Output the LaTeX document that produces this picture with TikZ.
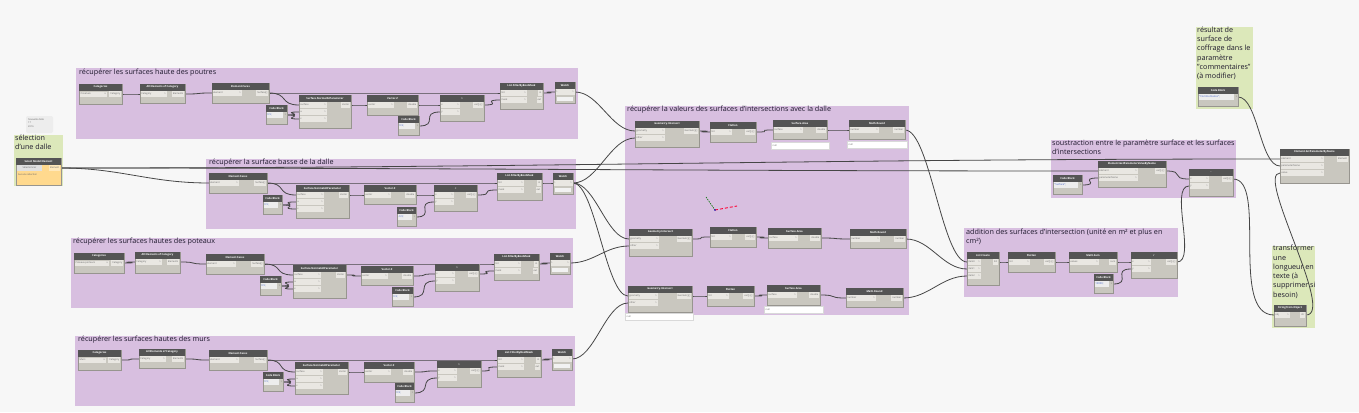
\documentclass[tikz,border=0pt]{standalone}
\usepackage{fontspec}
\setmainfont{Open Sans}
\usetikzlibrary{calc}
\pgfdeclarelayer{bgl}
\pgfdeclarelayer{wl}
\pgfsetlayers{bgl,wl,main}
\definecolor{bgc}{RGB}{247,247,247}
\definecolor{grp}{RGB}{216,191,224}
\definecolor{notec}{RGB}{220,232,186}
\definecolor{hd}{RGB}{84,84,84}
\definecolor{bd}{RGB}{201,199,191}
\definecolor{ptc}{RGB}{233,231,226}
\definecolor{wirec}{RGB}{70,70,70}
\definecolor{ttl}{RGB}{30,25,45}
\definecolor{cbtxt}{RGB}{70,100,200}
\definecolor{selb}{RGB}{255,217,142}
\tikzset{
 dbody/.style={draw=bd!75!black, fill=bd, line width=0.4pt, inner sep=0pt, outer sep=0pt},
 wire/.style={draw=wirec, line width=0.8pt},
 gtitle/.style={anchor=north west, inner sep=0pt, align=left, font=\fontsize{7.2}{9.4}\selectfont, text=ttl},
 ntitle/.style={font=\fontsize{2.6}{3}\selectfont\bfseries, text=white, inner sep=0pt},
 plab/.style={font=\fontsize{2.4}{3}\selectfont, text=black!60, inner sep=0pt},
 cbl/.style={font=\fontsize{2.6}{3}\selectfont, text=cbtxt, inner sep=0pt},
 notetxt/.style={anchor=north west, inner sep=0pt, align=left, font=\fontsize{7.2}{9.3}\selectfont, text=ttl},
 valbox/.style={draw=black!15, fill=white, inner sep=0pt, line width=0.3pt, anchor=north west},
}
% generic Dynamo node: name, x, y, w, h, title, input width, inputs, outputs
\newcommand\dyn[9]{%
 \node[dbody, anchor=north west, minimum width=#4pt, minimum height=#5pt] (#1) at (#2,#3) {};
 \fill[hd] (#1.north west) rectangle ([yshift=-6.5pt]#1.north east);
 \node[ntitle] (#1-t) at ([yshift=-3.25pt]#1.north) {#6};
 \foreach \lab [count=\i] in {#8} {%
   \pgfmathsetmacro\ya{7*\i}%
   \fill[ptc] ([xshift=0.5pt,yshift=-\ya pt]#1.north west) rectangle ([xshift=#7pt,yshift=-\ya pt-6pt]#1.north west);
   \node[plab, anchor=west] (#1-i\i) at ([xshift=1.2pt,yshift=-\ya pt-3pt]#1.north west) {\lab};
   \node[plab, anchor=east] (#1-a\i) at ([xshift=#7pt-1pt,yshift=-\ya pt-3pt]#1.north west) {>};
 }
 \foreach \olab [count=\j] in {#9} {%
   \pgfmathsetmacro\yb{7*\j+3}%
   \node[plab, anchor=east, fill=ptc, minimum height=6pt, inner xsep=1pt] (#1-o\j) at ([xshift=-0.5pt,yshift=-\yb pt]#1.north east) {\olab};
 }
}
% code block: name, x, y, w, text
\newcommand\cblock[5]{%
 \node[dbody, anchor=north west, minimum width=#4pt, minimum height=19pt] (#1) at (#2,#3) {};
 \fill[hd] (#1.north west) rectangle ([yshift=-6.5pt]#1.north east);
 \node[ntitle] (#1-t) at ([yshift=-3.25pt]#1.north) {Code Block};
 \fill[white!93!black] ([xshift=0.5pt,yshift=-7pt]#1.north west) rectangle ([xshift=-4pt,yshift=-13pt]#1.north east);
 \node[cbl, anchor=west] (#1-c) at ([xshift=1.2pt,yshift=-10pt]#1.north west) {#5};
 \node[plab, anchor=east] (#1-o) at ([xshift=-0.6pt,yshift=-10pt]#1.north east) {>};
}
% categories: name, x, y, w, text
\newcommand\catnode[5]{%
 \node[dbody, anchor=north west, minimum width=#4pt, minimum height=20pt] (#1) at (#2,#3) {};
 \fill[hd] (#1.north west) rectangle ([yshift=-6.5pt]#1.north east);
 \node[ntitle] (#1-t) at ([yshift=-3.25pt]#1.north) {Categories};
 \fill[ptc] ([xshift=1pt,yshift=-7.5pt]#1.north west) rectangle ([xshift=-15pt,yshift=-12.5pt]#1.north east);
 \node[plab, anchor=west] (#1-c) at ([xshift=1.5pt,yshift=-10pt]#1.north west) {#5};
 \node[plab, anchor=east] (#1-v) at ([xshift=-16pt,yshift=-10pt]#1.north east) {v};
 \node[plab, anchor=east, fill=ptc, minimum height=6pt, inner xsep=1pt] (#1-o) at ([xshift=-0.5pt,yshift=-10pt]#1.north east) {Category};
}
% watch: name, x, y
\newcommand\watch[3]{%
 \node[dbody, anchor=north west, minimum width=20pt, minimum height=21pt] (#1) at (#2,#3) {};
 \fill[hd] (#1.north west) rectangle ([yshift=-6.5pt]#1.north east);
 \node[ntitle] (#1-t) at ([yshift=-3.25pt]#1.north) {Watch};
 \fill[ptc] ([xshift=0.5pt,yshift=-7pt]#1.north west) rectangle ([xshift=-0.5pt,yshift=-13pt]#1.north east);
 \node[plab, anchor=west] (#1-i) at ([xshift=1pt,yshift=-10pt]#1.north west) {>};
 \node[plab, anchor=east] (#1-o) at ([xshift=-1pt,yshift=-10pt]#1.north east) {>};
 \fill[white!95!black] ([xshift=2pt,yshift=-15pt]#1.north west) rectangle ([xshift=-2pt,yshift=-19pt]#1.north east);
}
\newcommand\wire[4]{\draw[wire] let \p1=([yshift=-#2pt]#1.north east), \p2=([yshift=-#4pt]#3.north west), \n1={max(abs(\x2-\x1)*0.4,20pt)} in (\p1) .. controls +(\n1,0) and +(-\n1,0) .. (\p2);}
\newcommand\valfield[4]{\node[valbox, minimum width=#3pt, minimum height=6.5pt] (#1) at (#2) {}; \node[plab, anchor=west] (#1-t) at ([xshift=1.5pt]#1.west) {#4};}

\begin{document}
\begin{tikzpicture}[x=1pt,y=-1pt]
\useasboundingbox (0,0) rectangle (1359,412);
\begin{pgfonlayer}{bgl}
\fill[bgc] (0,0) rectangle (1359,412);
% groups
\fill[grp] (76,68) rectangle (578,139);
\node[gtitle] (g1) at (79,68.5) {récupérer les surfaces haute des poutres};
\fill[grp] (206,159) rectangle (576,229);
\node[gtitle] (g2) at (209,158.5) {récupérer la surface basse de la dalle};
\fill[grp] (71,238) rectangle (573,308);
\node[gtitle] (g3) at (73,237.5) {récupérer les surfaces hautes des poteaux};
\fill[grp] (75,336) rectangle (575,406);
\node[gtitle] (g4) at (78,335.5) {récupérer les surfaces hautes des murs};
\fill[grp] (625,106) rectangle (909,315);
\node[gtitle] (g5) at (627,105.5) {récupérer la valeurs des surfaces d’intersections avec la dalle};
\fill[grp] (1051,140) rectangle (1236,198);
\node[gtitle] (g6) at (1052,139.5) {soustraction entre le paramètre surface et les surfaces\\d’intersections};
\fill[grp] (964,228) rectangle (1178,297);
\node[gtitle] (g7) at (966,228.5) {addition des surfaces d’intersection (unité en m² et plus en\\cm²)};
% notes
\fill[notec] (14,135) rectangle (63,186);
\node[notetxt] (n1) at (15,134.5) {sélection\\d’une dalle};
\fill[notec] (1196,27) rectangle (1253,109);
\node[notetxt] (n2) at (1197,26.5) {résultat de\\surface de\\coffrage dans le\\paramètre\\"commentaires"\\(à modifier)};
\fill[notec] (1272,246) rectangle (1315,328);
\node[notetxt] (n3) at (1273,245) {transformer\\une\\longueur en\\texte (à\\supprimer si\\besoin)};
\fill[black!7, rounded corners=2pt] (26,116) rectangle (53,133);
\node[plab, anchor=north west, align=left, font=\fontsize{2.4}{3.6}\selectfont] (n4) at (28,118) {Nouvelle dalle\\17\\2016};
% view gizmo
\draw[green!45!black, line width=0.6pt, dash pattern=on 1.5pt off 1pt] (706,197) -- (715,210);
\draw[red!80!magenta, line width=0.9pt, dash pattern=on 3pt off 2pt] (715,210) -- (737,206);
\fill[blue!70!black] (715,210) circle (0.8);
\end{pgfonlayer}

% selection
\node[dbody, fill=selb, anchor=north west, minimum width=45pt, minimum height=27pt] (sel) at (16,158) {};
\fill[hd] (sel.north west) rectangle ([yshift=-6.5pt]sel.north east);
\node[ntitle] (sel-t) at ([yshift=-3.25pt]sel.north) {Select Model Element};
\fill[black!12] ([xshift=1pt,yshift=-7pt]sel.north west) rectangle ([xshift=26pt,yshift=-13pt]sel.north west);
\node[plab] (sel-b) at ([xshift=13.5pt,yshift=-10pt]sel.north west) {Sélectionner};
\node[plab, anchor=east, fill=selb!60!white, minimum height=6pt, inner xsep=1pt] (sel-o) at ([xshift=-0.5pt,yshift=-10pt]sel.north east) {Element};
\node[plab, anchor=west] (sel-s) at ([xshift=2pt,yshift=-17pt]sel.north west) {Aucune sélection};

% group 1
\catnode{cat1}{79}{84}{43}{Ossature}
\dyn{all1}{140}{84}{45}{19}{All Elements of Category}{27}{Category}{Elements}
\dyn{fac1}{212}{83}{57}{20}{Element.Faces}{30}{element}{Surface[]}
\cblock{cba1}{266}{105}{21}{0.5;}
\dyn{sn1}{299}{95}{52}{33}{Surface.NormalAtParameter}{28}{surface,u,v}{Vector}
\dyn{vz1}{367}{95}{51}{20}{Vector.Z}{27}{vector}{double}
\cblock{cbb1}{398}{116}{21}{0.9;}
\dyn{op1}{440}{95}{44}{26}{>}{20}{x,y}{var[]..[]}
\dyn{fi1}{500}{83}{43}{26}{List.FilterByBoolMask}{27}{list,mask}{in,out}
\watch{w1}{555}{82}
% group 2
\dyn{fac2}{209}{173}{58}{20}{Element.Faces}{30}{element}{Surface[]}
\cblock{cba2}{263}{195}{19}{0.5;}
\dyn{sn2}{296}{185}{53}{33}{Surface.NormalAtParameter}{28}{surface,u,v}{Vector}
\dyn{vz2}{364}{185}{52}{19}{Vector.Z}{27}{vector}{double}
\cblock{cbb2}{397}{207}{19}{-0.9;}
\dyn{op2}{434}{185}{43}{26}{<}{20}{x,y}{var[]..[]}
\dyn{fi2}{497}{173}{45}{27}{List.FilterByBoolMask}{27}{list,mask}{in,out}
\watch{w2}{553}{173}
% group 3
\catnode{cat3}{74}{253}{50}{Poteaux porteurs}
\dyn{all3}{135}{252}{45}{21}{All Elements of Category}{27}{Category}{Elements}
\dyn{fac3}{206}{254}{58}{20}{Element.Faces}{30}{element}{Surface[]}
\cblock{cba3}{260}{276}{21}{0.5;}
\dyn{sn3}{293}{265}{53}{33}{Surface.NormalAtParameter}{28}{surface,u,v}{Vector}
\dyn{vz3}{361}{266}{52}{19}{Vector.Z}{27}{vector}{double}
\cblock{cbb3}{392}{287}{21}{0.9;}
\dyn{op3}{435}{264}{44}{27}{>}{20}{x,y}{var[]..[]}
\dyn{fi3}{494}{254}{45}{26}{List.FilterByBoolMask}{27}{list,mask}{in,out}
\watch{w3}{550}{253}
% group 4
\catnode{cat4}{78}{350}{43}{Murs}
\dyn{all4}{139}{349}{46}{19}{All Elements of Category}{27}{Category}{Elements}
\dyn{fac4}{209}{350}{58}{20}{Element.Faces}{30}{element}{Surface[]}
\cblock{cba4}{263}{372}{20}{0.5;}
\dyn{sn4}{295}{362}{53}{32}{Surface.NormalAtParameter}{28}{surface,u,v}{Vector}
\dyn{vz4}{364}{362}{50}{20}{Vector.Z}{27}{vector}{double}
\cblock{cbb4}{395}{383}{19}{0.9;}
\dyn{op4}{437}{361}{44}{26}{>}{20}{x,y}{var[]..[]}
\dyn{fi4}{497}{350}{44}{27}{List.FilterByBoolMask}{27}{list,mask}{in,out}
\watch{w4}{552}{349}
% intersections
\dyn{gi1}{635}{121}{64}{26}{Geometry.Intersect}{30}{geometry,other}{Geometry[]}
\dyn{fl1}{710}{122}{46}{20}{Flatten}{22}{list}{var[]..[]}
\dyn{sa1}{773}{120}{54}{19}{Surface.Area}{30}{surface}{double}
\dyn{mr1}{849}{120}{56}{19}{Math.Round}{30}{number}{number}
\valfield{vb1}{771,142}{58}{null}
\valfield{vb2}{847,141}{60}{null}
\dyn{gi2}{629}{229}{63}{27}{Geometry.Intersect}{30}{geometry,other}{Geometry[]}
\dyn{fl2}{710}{227}{46}{20}{Flatten}{22}{list}{var[]..[]}
\dyn{sa2}{768}{228}{53}{20}{Surface.Area}{30}{surface}{double}
\dyn{mr2}{850}{229}{56}{19}{Math.Round}{30}{number}{number}
\dyn{gi3}{628}{286}{64}{26}{Geometry.Intersect}{30}{geometry,other}{Geometry[]}
\dyn{fl3}{707}{286}{47}{20}{Flatten}{22}{list}{var[]..[]}
\dyn{sa3}{767}{285}{53}{20}{Surface.Area}{30}{surface}{double}
\dyn{mr3}{846}{288}{57}{19}{Math.Round}{30}{number}{number}
\valfield{vb3}{625,313}{68}{null}
\valfield{vb4}{764,306}{59}{null}
% addition
\dyn{lc}{967}{252}{32}{33}{List.Create}{14}{item0,item1,item2}{list}
\dyn{fl4}{1008}{252}{47}{20}{Flatten}{22}{list}{var[]..[]}
\dyn{ms}{1069}{252}{48}{20}{Math.Sum}{30}{values}{sum}
\cblock{cb10}{1094}{274}{19}{10000;}
\dyn{dv}{1131}{252}{46}{26}{/}{20}{x,y}{var[]..[]}
% subtraction
\cblock{cbs}{1053}{175}{29}{"Surface";}
\dyn{gp}{1098}{161}{68}{26}{Element.GetParameterValueByName}{40}{element,parameterName}{var[]..[]}
\dyn{sb}{1189}{169}{44}{27}{-}{20}{x,y}{var[]..[]}
% right
\cblock{cbc}{1198}{87}{40}{"Commentaires";}
\dyn{sp}{1280}{149}{69}{34}{Element.SetParameterByName}{44}{element,parameterName,value}{Element}
\dyn{sfo}{1274}{305}{32}{21}{String from Object}{16}{obj}{str}

\begin{pgfonlayer}{wl}
% selection
\wire{sel}{10}{fac2}{10}
\wire{sel}{10}{gp}{10}
\wire{sel}{10}{sp}{10}
% groups
\wire{cat1}{10}{all1}{10}
\wire{all1}{10}{fac1}{10}
\wire{fac1}{10}{sn1}{10}
\wire{fac1}{10}{fi1}{10}
\wire{cba1}{10}{sn1}{17}
\wire{cba1}{10}{sn1}{24}
\wire{sn1}{10}{vz1}{10}
\wire{vz1}{10}{op1}{10}
\wire{cbb1}{10}{op1}{17}
\wire{op1}{10}{fi1}{17}
\wire{fi1}{10}{w1}{10}
\wire{fac2}{10}{sn2}{10}
\wire{fac2}{10}{fi2}{10}
\wire{cba2}{10}{sn2}{17}
\wire{cba2}{10}{sn2}{24}
\wire{sn2}{10}{vz2}{10}
\wire{vz2}{10}{op2}{10}
\wire{cbb2}{10}{op2}{17}
\wire{op2}{10}{fi2}{17}
\wire{fi2}{10}{w2}{10}
\wire{cat3}{10}{all3}{10}
\wire{all3}{10}{fac3}{10}
\wire{fac3}{10}{sn3}{10}
\wire{fac3}{10}{fi3}{10}
\wire{cba3}{10}{sn3}{17}
\wire{cba3}{10}{sn3}{24}
\wire{sn3}{10}{vz3}{10}
\wire{vz3}{10}{op3}{10}
\wire{cbb3}{10}{op3}{17}
\wire{op3}{10}{fi3}{17}
\wire{fi3}{10}{w3}{10}
\wire{cat4}{10}{all4}{10}
\wire{all4}{10}{fac4}{10}
\wire{fac4}{10}{sn4}{10}
\wire{fac4}{10}{fi4}{10}
\wire{cba4}{10}{sn4}{17}
\wire{cba4}{10}{sn4}{24}
\wire{sn4}{10}{vz4}{10}
\wire{vz4}{10}{op4}{10}
\wire{cbb4}{10}{op4}{17}
\wire{op4}{10}{fi4}{17}
\wire{fi4}{10}{w4}{10}
% to intersections
\wire{w1}{10}{gi1}{10}
\wire{w2}{10}{gi1}{17}
\wire{w2}{10}{gi2}{10}
\wire{w3}{10}{gi2}{17}
\wire{w2}{10}{gi3}{10}
\wire{w4}{10}{gi3}{17}
\wire{gi1}{10}{fl1}{10}
\wire{fl1}{10}{sa1}{10}
\wire{sa1}{10}{mr1}{10}
\wire{gi2}{10}{fl2}{10}
\wire{fl2}{10}{sa2}{10}
\wire{sa2}{10}{mr2}{10}
\wire{gi3}{10}{fl3}{10}
\wire{fl3}{10}{sa3}{10}
\wire{sa3}{10}{mr3}{10}
% addition
\wire{mr1}{10}{lc}{10}
\wire{mr2}{10}{lc}{17}
\wire{mr3}{10}{lc}{24}
\wire{lc}{10}{fl4}{10}
\wire{fl4}{10}{ms}{10}
\wire{ms}{10}{dv}{10}
\wire{cb10}{10}{dv}{17}
% subtraction
\wire{cbs}{10}{gp}{17}
\wire{gp}{10}{sb}{10}
\wire{dv}{10}{sb}{17}
\draw[wire] ([yshift=-10pt]sb.north east) .. controls +(35,0) and +(-45,0) .. ([yshift=-10pt]sfo.north west);
\draw[wire] ([yshift=-10pt]sfo.north east) .. controls +(30,0) and +(-25,0) .. ([yshift=-24pt]sp.north west);
\wire{cbc}{10}{sp}{17}
\end{pgfonlayer}
\end{tikzpicture}
\end{document}
